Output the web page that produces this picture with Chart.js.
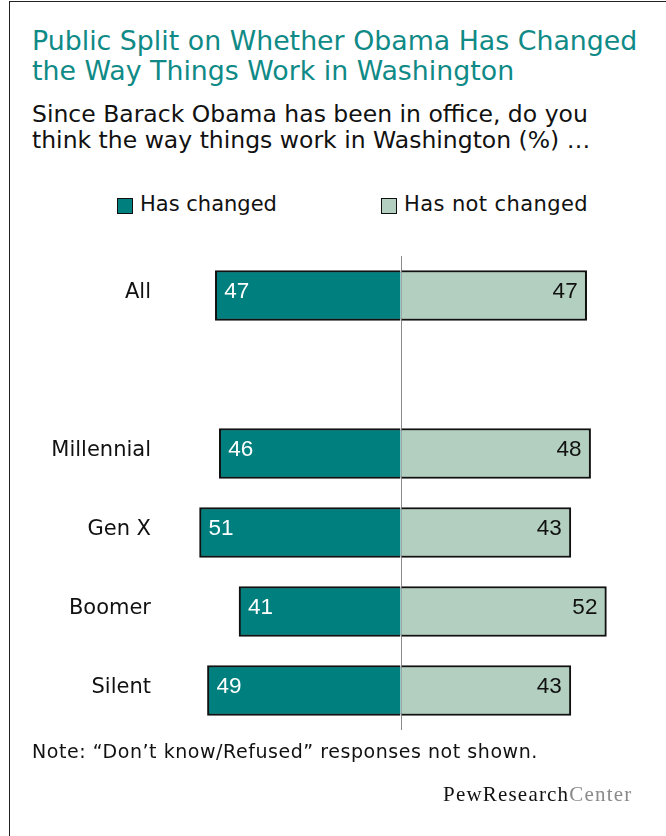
<!DOCTYPE html>
<html>
<head>
<meta charset="utf-8">
<script src="https://cdn.jsdelivr.net/npm/chart.js@4.4.0/dist/chart.umd.min.js"></script>
<style>
  html, body { margin: 0; padding: 0; background: #ffffff; }
  body { width: 666px; height: 836px; position: relative; overflow: hidden; font-family: "DejaVu Sans", sans-serif; }
  .frame { position: absolute; left: 9px; top: 1px; width: 700px; height: 900px; border-top: 1.5px solid #222; border-left: 1.5px solid #222; }
  .title { position: absolute; left: 32px; top: 26px; font-size: 26.8px; line-height: 30px; color: #0f8a86; white-space: nowrap; }
  .subtitle { position: absolute; left: 32px; top: 100.5px; font-size: 23.5px; line-height: 26px; color: #111; white-space: nowrap; }
  .leg { position: absolute; top: 194px; font-size: 21px; line-height: 21px; color: #111; white-space: nowrap; }
  .sw { position: absolute; width: 14px; height: 14px; border: 1.2px solid #111; top: 198px; }
  .note { position: absolute; left: 32px; top: 742px; font-size: 19px; line-height: 19px; letter-spacing: 0.55px; color: #111; white-space: nowrap; }
  .logo { position: absolute; left: 443px; top: 784px; font-family: "Liberation Serif", serif; font-size: 21px; line-height: 21px; letter-spacing: 1.2px; white-space: nowrap; }
  .logo .a { color: #111; }
  .logo .b { color: #8a8a8a; }
  #wrap { position: absolute; left: 0; top: 0; width: 666px; height: 836px; }
</style>
</head>
<body>
<div class="frame"></div>
<div class="title">Public Split on Whether Obama Has Changed<br>the Way Things Work in Washington</div>
<div class="subtitle">Since Barack Obama has been in office, do you<br>think the way things work in Washington (%) …</div>
<div class="sw" style="left:117px; background:#007f7f;"></div>
<div class="leg" style="left:140px;">Has changed</div>
<div class="sw" style="left:381px; background:#b3cfbf;"></div>
<div class="leg" style="left:404px; letter-spacing:0.4px;">Has not changed</div>
<div id="wrap"><canvas id="c" width="666" height="836"></canvas></div>
<div class="note">Note: “Don’t know/Refused” responses not shown.</div>
<div class="logo"><span class="a">PewResearch</span><span class="b">Center</span></div>
<script>
const categories = ['All', '', 'Millennial', 'Gen X', 'Boomer', 'Silent'];
const hasChanged = [47, null, 46, 51, 41, 49];
const hasNotChanged = [47, null, 48, 43, 52, 43];
const seriesNames = ['Has changed', 'Has not changed'];

const valueLabels = {
  id: 'valueLabels',
  afterDatasetsDraw(chart) {
    const ctx = chart.ctx;
    ctx.save();
    ctx.font = '22.5px "Liberation Sans Narrow", "Liberation Sans", sans-serif';
    ctx.textBaseline = 'alphabetic';
    chart.data.datasets.forEach((ds, di) => {
      const meta = chart.getDatasetMeta(di);
      meta.data.forEach((el, i) => {
        const raw = di === 0 ? hasChanged[i] : hasNotChanged[i];
        if (raw == null) return;
        if (di === 0) {
          ctx.fillStyle = '#ffffff';
          ctx.textAlign = 'left';
          ctx.fillText(String(raw), el.x + 9, el.y + 2.5);
        } else {
          ctx.fillStyle = '#111111';
          ctx.textAlign = 'right';
          ctx.fillText(String(raw), el.x - 9, el.y + 2.5);
        }
      });
    });
    ctx.restore();
  }
};

new Chart(document.getElementById('c'), {
  type: 'bar',
  data: {
    labels: categories,
    datasets: [
      {
        label: seriesNames[0],
        data: hasChanged.map(v => v == null ? null : -v),
        backgroundColor: '#007f7f',
        borderColor: '#111111',
        borderWidth: 2,
        barThickness: 50
      },
      {
        label: seriesNames[1],
        data: hasNotChanged,
        backgroundColor: '#b3cfbf',
        borderColor: '#111111',
        borderWidth: 2,
        barThickness: 50
      }
    ]
  },
  options: {
    indexAxis: 'y',
    responsive: false,
    animation: false,
    devicePixelRatio: 1,
    layout: { padding: { top: 256, bottom: 106, left: 0, right: 28 } },
    plugins: { legend: { display: false }, tooltip: { enabled: false }, title: { display: false } },
    scales: {
      x: {
        stacked: true,
        min: -60, max: 60,
        z: 1,
        ticks: { display: false, stepSize: 60 },
        border: { display: false },
        grid: {
          drawTicks: false,
          color: c => (c.tick && c.tick.value === 0) ? '#8a8a8a' : 'rgba(0,0,0,0)',
          lineWidth: 1
        },
        afterFit: s => { s.height = 0; }
      },
      y: {
        stacked: true,
        border: { display: false },
        grid: { display: false, drawTicks: false },
        ticks: {
          padding: 13,
          labelOffset: -3,
          color: '#111111',
          font: { family: '"DejaVu Sans", sans-serif', size: 21 }
        },
        afterFit: s => { s.width = 164; }
      }
    }
  },
  plugins: [valueLabels]
});
</script>
</body>
</html>
